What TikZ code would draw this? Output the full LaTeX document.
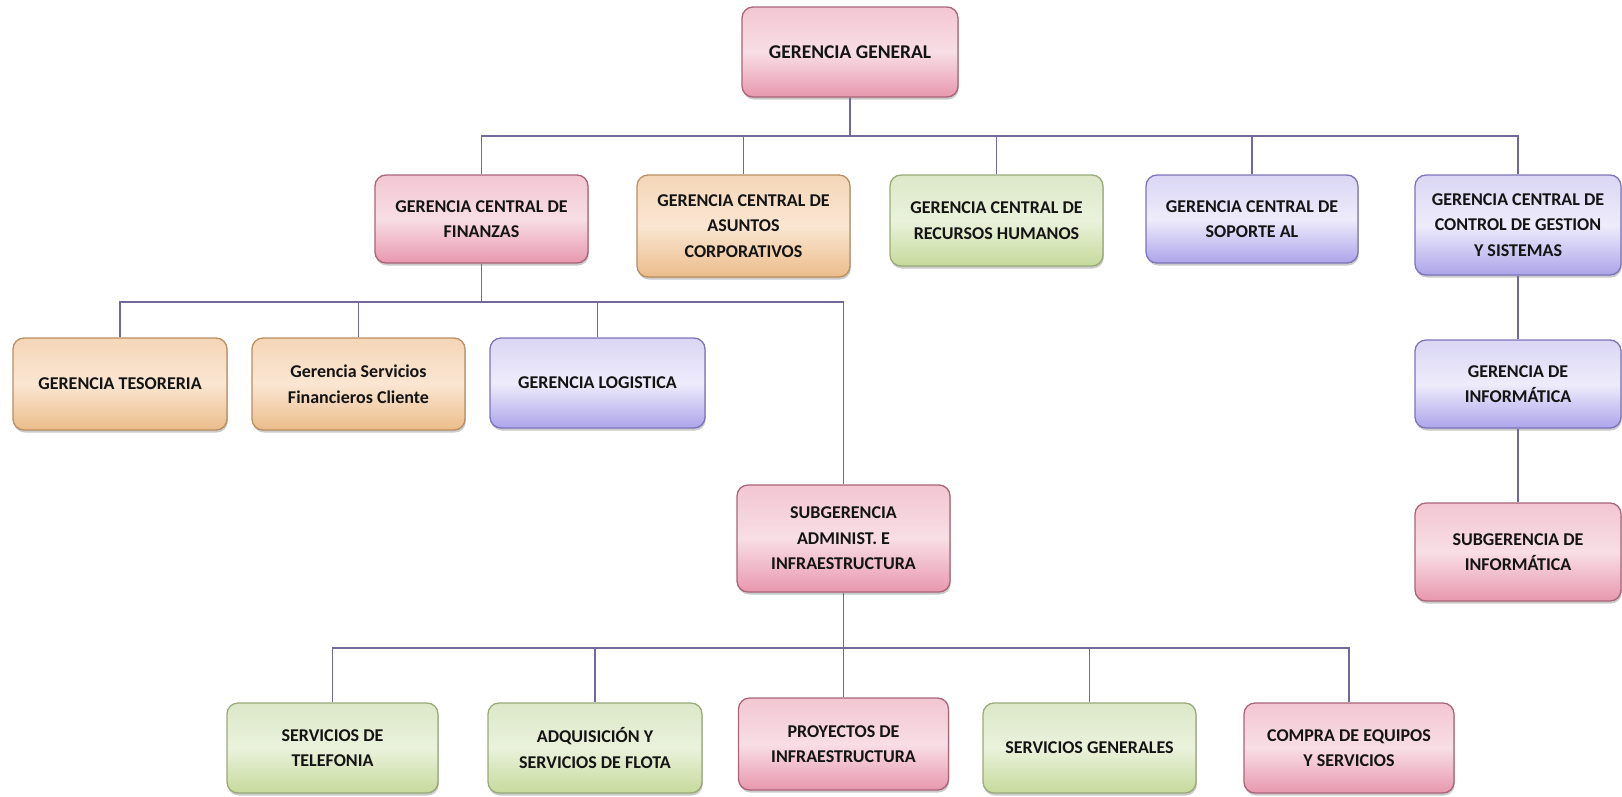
\documentclass[tikz,border=0pt]{standalone}
\usepackage{fontspec}
\setmainfont{Carlito}
\usetikzlibrary{shadows}

% box palettes: border, top, middle, bottom
\definecolor{pinkline}{HTML}{A86478}
\definecolor{pinktop}{HTML}{F2C6D2}
\definecolor{pinkmid}{HTML}{F8DEE6}
\definecolor{pinkbot}{HTML}{E897AE}
\definecolor{tanline}{HTML}{B98E60}
\definecolor{tantop}{HTML}{F4D6B8}
\definecolor{tanmid}{HTML}{FAE6D2}
\definecolor{tanbot}{HTML}{EBBC8A}
\definecolor{greenline}{HTML}{98AA78}
\definecolor{greentop}{HTML}{DCE8C8}
\definecolor{greenmid}{HTML}{EAF2DC}
\definecolor{greenbot}{HTML}{C6DA9C}
\definecolor{violetline}{HTML}{7C74B8}
\definecolor{violettop}{HTML}{DAD6F4}
\definecolor{violetmid}{HTML}{EEECFB}
\definecolor{violetbot}{HTML}{ADA4EA}
\definecolor{linkc}{HTML}{74679A}

\begin{document}
\begin{tikzpicture}[x=1pt,y=-1pt,
  box/.style={draw, line width=1.3pt, rounded corners=11pt, align=center,
    inner sep=2pt, text=black!92,
    font=\bfseries\fontsize{18}{25.5}\selectfont,
    drop shadow={shadow xshift=0.8pt, shadow yshift=-2.5pt, opacity=0.35, fill=black!60}},
  sz/.style 2 args={minimum width=#1pt, minimum height=#2pt},
  pinkbox/.style={box, draw=pinkline, top color=pinktop, bottom color=pinkbot, middle color=pinkmid},
  tanbox/.style={box, draw=tanline, top color=tantop, bottom color=tanbot, middle color=tanmid},
  greenbox/.style={box, draw=greenline, top color=greentop, bottom color=greenbot, middle color=greenmid},
  violetbox/.style={box, draw=violetline, top color=violettop, bottom color=violetbot, middle color=violetmid},
  conn/.style={draw=linkc, line width=1.5pt}]

\useasboundingbox (0,0) rectangle (1622,796);

% top level
\node[pinkbox, sz={216}{90}, font=\bfseries\fontsize{19.5}{26}\selectfont] (gg) at (850,52) {GERENCIA GENERAL};

% central managements
\node[pinkbox, sz={213}{88}] (fin) at (481.5,219) {GERENCIA CENTRAL DE\\FINANZAS};
\node[tanbox, sz={213}{102}] (asu) at (743.5,226) {GERENCIA CENTRAL DE\\ASUNTOS\\CORPORATIVOS};
\node[greenbox, sz={213}{91}] (rrhh) at (996.5,220.5) {GERENCIA CENTRAL DE\\RECURSOS HUMANOS};
\node[violetbox, sz={212}{88}] (sop) at (1252,219) {GERENCIA CENTRAL DE\\SOPORTE AL};
\node[violetbox, sz={206}{100}] (ctl) at (1518,225) {GERENCIA CENTRAL DE\\CONTROL DE GESTION\\Y SISTEMAS};

% under finanzas
\node[tanbox, sz={214}{92}] (tes) at (120,384) {GERENCIA TESORERIA};
\node[tanbox, sz={213}{92}] (sfc) at (358.5,384) {Gerencia Servicios\\Financieros Cliente};
\node[violetbox, sz={215}{90}] (log) at (597.5,383) {GERENCIA LOGISTICA};
\node[pinkbox, sz={213}{107}] (sub) at (843.5,538.5) {SUBGERENCIA\\ADMINIST. E\\INFRAESTRUCTURA};

% informatics column
\node[violetbox, sz={206}{88}] (inf) at (1518,384) {GERENCIA DE\\INFORMÁTICA};
\node[pinkbox, sz={206}{98}] (subinf) at (1518,552) {SUBGERENCIA DE\\INFORMÁTICA};

% under subgerencia
\node[greenbox, sz={211}{90}] (tel) at (332.5,748) {SERVICIOS DE\\TELEFONIA};
\node[greenbox, sz={214}{90}] (adq) at (595,748) {ADQUISICIÓN Y\\SERVICIOS DE FLOTA};
\node[pinkbox, sz={210}{92}] (pro) at (843.5,744) {PROYECTOS DE\\INFRAESTRUCTURA};
\node[greenbox, sz={213}{90}] (sg) at (1089.5,748) {SERVICIOS GENERALES};
\node[pinkbox, sz={210}{90}] (com) at (1349,748) {COMPRA DE EQUIPOS\\Y SERVICIOS};

% bus levels
\coordinate (busA) at (0,136);
\coordinate (busB) at (0,302);
\coordinate (busC) at (0,648);

\foreach \c in {fin,asu,rrhh,sop,ctl}
  \draw[conn] (gg.south) -- (gg.south |- busA) -| (\c.north);
\foreach \c in {tes,sfc,log,sub}
  \draw[conn] (fin.south) -- (fin.south |- busB) -| (\c.north);
\foreach \c in {tel,adq,pro,sg,com}
  \draw[conn] (sub.south) -- (sub.south |- busC) -| (\c.north);
\draw[conn] (ctl.south) -- (inf.north);
\draw[conn] (inf.south) -- (subinf.north);
\end{tikzpicture}
\end{document}
